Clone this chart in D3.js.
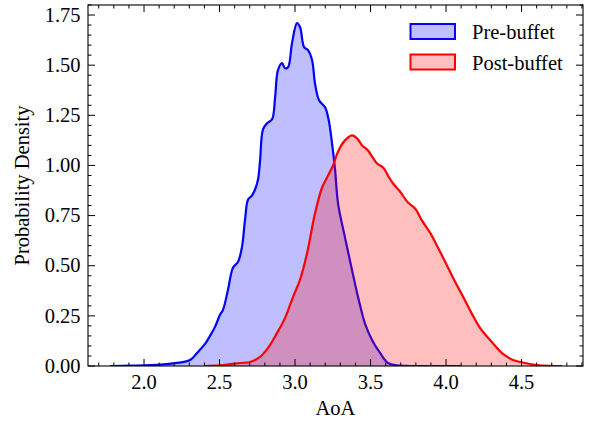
<!DOCTYPE html>
<html><head><meta charset="utf-8">
<script src="https://cdn.jsdelivr.net/npm/d3@7"></script>
<style>body{margin:0;background:#fff}svg{display:block}text{font-family:"Liberation Serif","Times New Roman",serif;fill:#000}</style>
</head><body><div id="chart"></div>
<script>
const preX = [1.775,1.907,2.040,2.192,2.305,2.351,2.404,2.437,2.470,2.503,2.523,2.556,2.589,2.623,2.649,2.669,2.689,2.715,2.735,2.755,2.768,2.788,2.815,2.848,2.868,2.887,2.914,2.934,2.954,2.980,3.013,3.033,3.060,3.086,3.113,3.132,3.159,3.199,3.222,3.245,3.265,3.285,3.331,3.377,3.417,3.464,3.510,3.563,3.616,3.675,3.760,3.900,4.100];
const preY = [0.000,0.002,0.004,0.013,0.030,0.065,0.110,0.150,0.195,0.255,0.280,0.380,0.490,0.520,0.595,0.730,0.830,0.850,0.880,0.930,1.020,1.180,1.210,1.230,1.340,1.475,1.510,1.485,1.490,1.610,1.710,1.690,1.590,1.575,1.525,1.410,1.325,1.290,1.230,1.110,0.980,0.810,0.640,0.480,0.345,0.210,0.130,0.065,0.015,0.003,0.000,0.000,0.000];
const postX = [2.404,2.503,2.636,2.702,2.768,2.821,2.881,2.934,2.987,3.033,3.079,3.132,3.179,3.212,3.252,3.285,3.331,3.377,3.411,3.444,3.483,3.543,3.583,3.623,3.649,3.695,3.748,3.795,3.841,3.894,3.947,4.007,4.060,4.113,4.172,4.225,4.291,4.377,4.444,4.523,4.603,4.690,4.768];
const postY = [0.000,0.003,0.015,0.020,0.045,0.090,0.165,0.240,0.345,0.430,0.560,0.760,0.890,0.940,1.000,1.070,1.125,1.150,1.135,1.100,1.075,1.010,0.990,0.940,0.910,0.870,0.815,0.785,0.725,0.665,0.590,0.500,0.420,0.345,0.260,0.190,0.130,0.060,0.030,0.015,0.005,0.001,0.000];
const seriesNames = ["Pre-buffet","Post-buffet"];
const seriesColors = ["#0000ff","#ff0000"];
const xTicks = [2.0,2.5,3.0,3.5,4.0,4.5];
const yTicks = [0.00,0.25,0.50,0.75,1.00,1.25,1.50,1.75];

const W=591,H=421, L=88, R=583, T=5, B=366;
const svg=d3.select("#chart").append("svg").attr("width",W).attr("height",H);
const x=d3.scaleLinear().domain([1.629,4.907]).range([L,R]);
const y=d3.scaleLinear().domain([0,1.80]).range([B,T]);

svg.append("clipPath").attr("id","clip").append("rect").attr("x",L).attr("y",T).attr("width",R-L).attr("height",B-T);
const g=svg.append("g").attr("clip-path","url(#clip)");
const datasets=[preX.map((v,i)=>[v,preY[i]]), postX.map((v,i)=>[v,postY[i]])];
const area=d3.area().x(d=>x(d[0])).y0(y(0)).y1(d=>y(d[1])).curve(d3.curveCatmullRom.alpha(0.5));
const line=d3.line().x(d=>x(d[0])).y(d=>y(d[1])).curve(d3.curveCatmullRom.alpha(0.5));
datasets.forEach((ds,i)=>{
  g.append("path").attr("d",area(ds)).attr("fill",seriesColors[i]).attr("fill-opacity",0.25);
  g.append("path").attr("d",line(ds)).attr("fill","none").attr("stroke",seriesColors[i]).attr("stroke-width",2.2).attr("stroke-linejoin","round");
});

const xMinor=d3.range(17,50).map(v=>v/10).filter(v=>x(v)>=L&&x(v)<=R);
const yMinor=d3.range(0,37).map(v=>v*0.05);
const tk=svg.append("g").attr("stroke","#000").attr("stroke-width",1);
xMinor.forEach(v=>{const px=x(v);const len=xTicks.some(t=>Math.abs(t-v)<1e-6)?7:3.5;
  tk.append("line").attr("x1",px).attr("x2",px).attr("y1",B).attr("y2",B-len);
  tk.append("line").attr("x1",px).attr("x2",px).attr("y1",T).attr("y2",T+len);});
yMinor.forEach(v=>{const py=y(v);const len=yTicks.some(t=>Math.abs(t-v)<1e-6)?7:3.5;
  tk.append("line").attr("y1",py).attr("y2",py).attr("x1",L).attr("x2",L+len);
  tk.append("line").attr("y1",py).attr("y2",py).attr("x1",R).attr("x2",R-len);});
svg.append("rect").attr("x",L).attr("y",T).attr("width",R-L).attr("height",B-T).attr("fill","none").attr("stroke","#000").attr("stroke-width",1.1);

const fs=20.5;
xTicks.forEach(v=>svg.append("text").attr("x",x(v)).attr("y",388.5).attr("text-anchor","middle").attr("font-size",fs).text(v.toFixed(1)));
yTicks.forEach(v=>svg.append("text").attr("x",80.5).attr("y",y(v)).attr("dy","0.33em").attr("text-anchor","end").attr("font-size",fs).text(v.toFixed(2)));
svg.append("text").attr("x",(L+R)/2).attr("y",414.5).attr("text-anchor","middle").attr("font-size",fs).text("AoA");
svg.append("text").attr("transform",`translate(29,${(T+B)/2}) rotate(-90)`).attr("text-anchor","middle").attr("font-size",fs).text("Probability Density");

seriesNames.forEach((n,i)=>{
  const yy=24+i*30.5;
  svg.append("rect").attr("x",410.5).attr("y",yy).attr("width",44.5).attr("height",15).attr("fill",seriesColors[i]).attr("fill-opacity",0.25).attr("stroke",seriesColors[i]).attr("stroke-width",2);
  svg.append("text").attr("x",472).attr("y",yy+15).attr("font-size",fs).text(n);
});
</script></body></html>
